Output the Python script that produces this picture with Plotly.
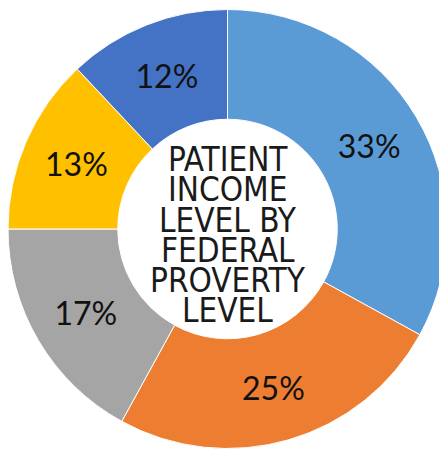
import plotly.graph_objects as go

labels = ["A", "B", "C", "D", "E"]
values = [33, 25, 17, 13, 12]
colors = ["#5B9BD5", "#ED7D31", "#A5A5A5", "#FFC000", "#4472C4"]
center_lines = ["PATIENT", "INCOME", "LEVEL BY", "FEDERAL", "PROVERTY", "LEVEL"]

fig = go.Figure(go.Pie(
    labels=labels, values=values, hole=0.5, sort=False, direction="clockwise",
    rotation=0,
    marker=dict(colors=colors, line=dict(color="white", width=1)),
    texttemplate="%{percent:.0%}", textposition="inside",
    insidetextorientation="horizontal",
    textfont=dict(family="Lato", size=32, color="#111111"),
    showlegend=False, hoverinfo="skip",
))

# center title, one annotation per line for tight line spacing
H = 442
n = len(center_lines)
cy = 0.486
pitch = 30.2 / H
for i, line in enumerate(center_lines):
    fig.add_annotation(
        x=0.5, y=cy + (n - 1) / 2 * pitch - i * pitch, xref="paper", yref="paper",
        text=line, showarrow=False, xanchor="center", yanchor="middle",
        font=dict(family="DejaVu Sans Condensed, DejaVu Sans", size=33, color="#1a1a1a"),
    )

fig.update_layout(
    width=439, height=H,
    margin=dict(l=0, r=0, t=0, b=0),
    paper_bgcolor="white", plot_bgcolor="white",
)
fig.write_html("out.html")
